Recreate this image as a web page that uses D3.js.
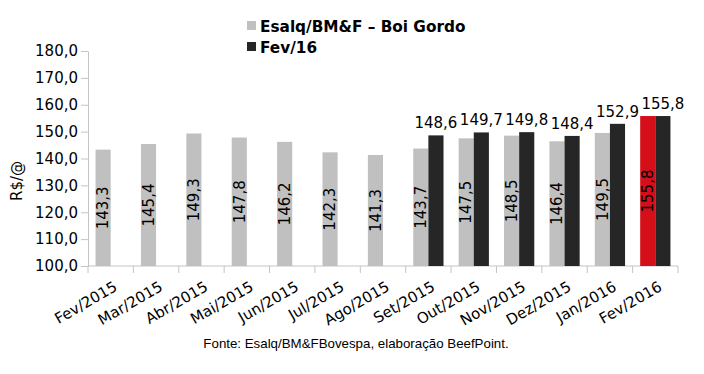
<!DOCTYPE html>
<html>
<head>
<meta charset="utf-8">
<script src="https://cdn.jsdelivr.net/npm/d3@7"></script>
<style>
  body { margin: 0; background: #fff; }
  svg text { font-family: 'DejaVu Sans', Verdana, sans-serif; fill: #000; }
</style>
</head>
<body>
<div id="chart"></div>
<script>
// month labels on the x axis
const categories = ['Fev/2015', 'Mar/2015', 'Abr/2015', 'Mai/2015', 'Jun/2015', 'Jul/2015',
  'Ago/2015', 'Set/2015', 'Out/2015', 'Nov/2015', 'Dez/2015', 'Jan/2016', 'Fev/2016']
// Esalq/BM&F spot price
const esalq = [143.3, 145.4, 149.3, 147.8, 146.2, 142.3, 141.3, 143.7, 147.5, 148.5, 146.4, 149.5, 155.8]
// Fev/16 futures contract
const fev16 = [null, null, null, null, null, null, null, 148.6, 149.7, 149.8, 148.4, 152.9, 155.8]
const yTicks = [100, 110, 120, 130, 140, 150, 160, 170, 180]
const seriesNames = ['Esalq/BM&F – Boi Gordo', 'Fev/16']

const width = 704
const height = 374
const margin = { top: 51, right: 26, bottom: 108, left: 88 }
const fmt = v => d3.format('.1f')(v).replace('.', ',')

const svg = d3.select('#chart').append('svg')
  .attr('width', width)
  .attr('height', height)

const x = d3.scaleBand()
  .domain(categories)
  .range([margin.left, width - margin.right])
  .padding(0)

const sub = d3.scaleBand()
  .domain(['esalq', 'fev16'])
  .range([0, x.bandwidth()])
  .paddingInner(0)
  .paddingOuter(0.5)

const y = d3.scaleLinear()
  .domain([100, 180])
  .range([height - margin.bottom, margin.top])

// y axis
const yAxis = svg.append('g')
  .attr('transform', `translate(${margin.left},0)`)
  .call(d3.axisLeft(y).tickValues(yTicks).tickFormat(fmt).tickSizeInner(7).tickSizeOuter(0).tickPadding(3))
yAxis.select('.domain').attr('stroke', '#c4c4c4')
yAxis.selectAll('.tick line').attr('stroke', '#c4c4c4')
yAxis.selectAll('.tick text').attr('font-size', 15).attr('fill', '#000')

// x axis: ticks sit on category boundaries
const xAxis = svg.append('g')
  .attr('transform', `translate(0,${height - margin.bottom})`)
xAxis.append('line')
  .attr('x1', margin.left).attr('x2', width - margin.right)
  .attr('stroke', '#c4c4c4')
xAxis.selectAll('line.tk')
  .data(categories.concat(['end']))
  .join('line')
  .attr('class', 'tk')
  .attr('x1', (d, i) => margin.left + i * x.step())
  .attr('x2', (d, i) => margin.left + i * x.step())
  .attr('y1', 0).attr('y2', 7)
  .attr('stroke', '#c4c4c4')
xAxis.selectAll('text')
  .data(categories)
  .join('text')
  .attr('font-size', 15)
  .attr('text-anchor', 'end')
  .attr('transform', d => `translate(${x(d) + x.bandwidth() / 2 + 2},${14}) rotate(-30)`)
  .attr('dy', '0.75em')
  .text(d => d)

// bars
const base = y(100)
svg.append('g').selectAll('rect')
  .data(esalq)
  .join('rect')
  .attr('x', (d, i) => x(categories[i]) + sub('esalq'))
  .attr('width', sub.bandwidth())
  .attr('y', d => y(d))
  .attr('height', d => base - y(d))
  .attr('fill', (d, i) => i === esalq.length - 1 ? '#d50f19' : '#c0c0c0')

svg.append('g').selectAll('rect')
  .data(fev16.map((v, i) => ({ v, i })).filter(d => d.v != null))
  .join('rect')
  .attr('x', d => x(categories[d.i]) + sub('fev16'))
  .attr('width', sub.bandwidth())
  .attr('y', d => y(d.v))
  .attr('height', d => base - y(d.v))
  .attr('fill', '#262626')

// value labels, grey series rotated inside bars
svg.append('g').selectAll('text')
  .data(esalq)
  .join('text')
  .attr('font-size', 15)
  .attr('text-anchor', 'middle')
  .attr('dy', '0.35em')
  .attr('transform', (d, i) => `translate(${x(categories[i]) + sub('esalq') + sub.bandwidth() / 2},${(y(d) + base) / 2}) rotate(-90)`)
  .text(fmt)

svg.append('g').selectAll('text')
  .data(fev16.map((v, i) => ({ v, i })).filter(d => d.v != null))
  .join('text')
  .attr('font-size', 15)
  .attr('text-anchor', 'middle')
  .attr('x', d => x(categories[d.i]) + sub('fev16') + sub.bandwidth() / 2)
  .attr('y', d => y(d.v) - 7)
  .text(d => fmt(d.v))

// y axis title
svg.append('text')
  .attr('font-size', 15)
  .attr('text-anchor', 'middle')
  .attr('transform', 'translate(22,181) rotate(-90)')
  .text('R$/@')

// legend
const legend = svg.append('g').attr('transform', 'translate(247,21)')
const swatch = ['#c0c0c0', '#262626']
seriesNames.forEach((name, i) => {
  const g = legend.append('g').attr('transform', `translate(0,${i * 21})`)
  g.append('rect').attr('width', 9).attr('height', 9).attr('fill', swatch[i])
  g.append('text')
    .attr('x', 13).attr('y', 11)
    .attr('font-size', 15.3)
    .attr('font-weight', 'bold')
    .text(name)
})

// source note
svg.append('text')
  .attr('x', 356).attr('y', 348)
  .attr('text-anchor', 'middle')
  .attr('font-size', 13.3)
  .style('font-family', "'Liberation Sans', Arial, sans-serif")
  .text('Fonte: Esalq/BM&FBovespa, elaboração BeefPoint.')
</script>
</body>
</html>
